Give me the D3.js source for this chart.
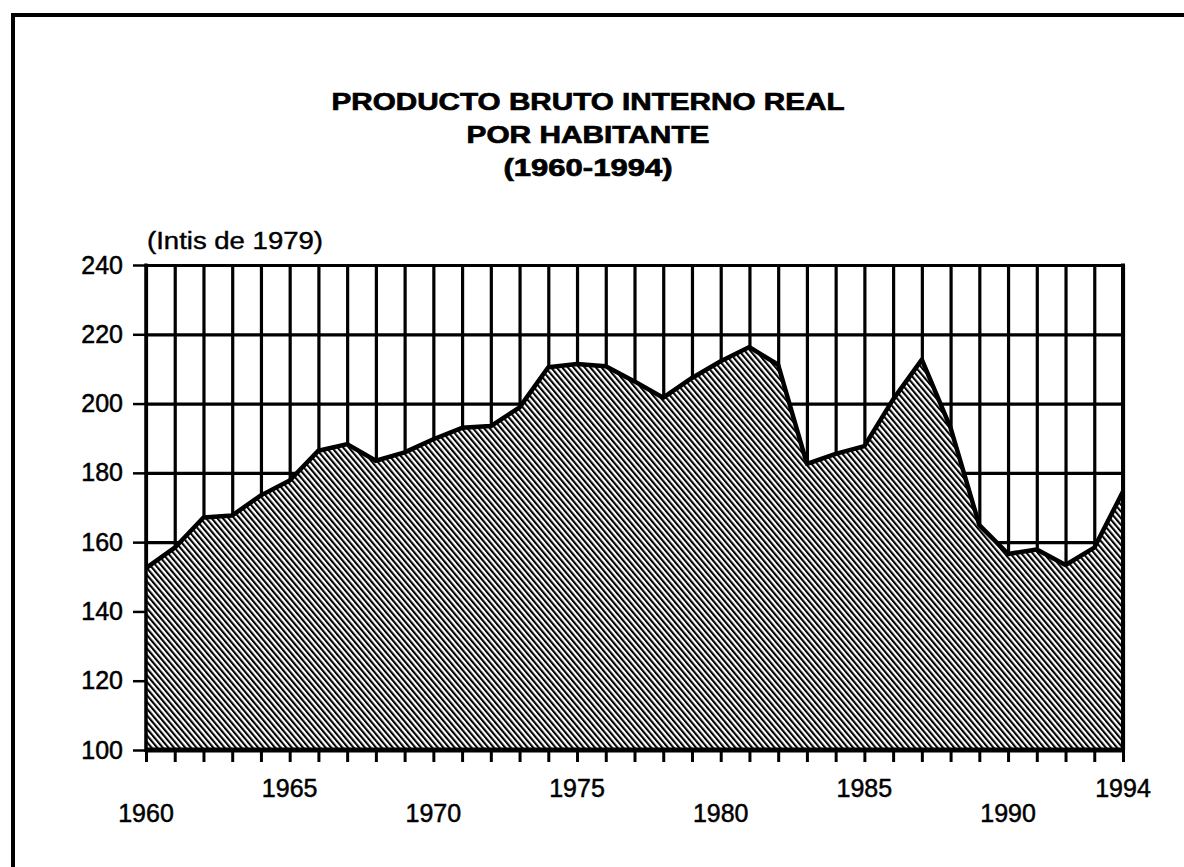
<!DOCTYPE html>
<html><head><meta charset="utf-8">
<script src="https://cdn.jsdelivr.net/npm/d3@7"></script>
<style>body{margin:0;background:#fff;overflow:hidden}svg{display:block}</style>
</head><body>
<svg id="c" width="1184" height="867"></svg>
<script>
// ---- data ----
const years = [1960,1961,1962,1963,1964,1965,1966,1967,1968,1969,
               1970,1971,1972,1973,1974,1975,1976,1977,1978,1979,
               1980,1981,1982,1983,1984,1985,1986,1987,1988,1989,
               1990,1991,1992,1993,1994];
const values = [152.5,158.4,167.1,167.7,173.5,177.8,186.4,188.3,183.5,185.9,
                189.7,193.0,193.5,198.9,210.5,211.4,210.8,206.4,201.7,207.4,
                212.2,216.3,211.2,182.6,185.5,187.7,201.2,212.7,193.0,164.9,
                156.6,157.9,153.4,158.4,174.6];
const yTicks = [100,120,140,160,180,200,220,240];
const xLabelsUpper = [1965,1975,1985,1994];
const xLabelsLower = [1960,1970,1980,1990];
const titleLines = ["PRODUCTO BRUTO INTERNO REAL","POR HABITANTE","(1960-1994)"];
const unitLabel = "(Intis de 1979)";

// ---- layout ----
const FONT = "'Liberation Sans', Arial, Helvetica, sans-serif";
const L = 146, R = 1123, T = 265, B = 750;
const svg = d3.select('#c');
const x = d3.scaleLinear().domain([1960,1994]).range([L,R]);
const y = d3.scaleLinear().domain([100,240]).range([B,T]);

// outer frame (top and left edges)
svg.append('line').attr('x1',11).attr('x2',1184).attr('y1',15).attr('y2',15)
  .attr('stroke','#000').attr('stroke-width',4);
svg.append('line').attr('x1',13).attr('x2',13).attr('y1',13).attr('y2',867)
  .attr('stroke','#000').attr('stroke-width',4);

// hatch pattern
const defs = svg.append('defs');
const pat = defs.append('pattern').attr('id','hatch')
  .attr('patternUnits','userSpaceOnUse').attr('width',4.3).attr('height',10)
  .attr('patternTransform','rotate(-40)');
pat.append('rect').attr('width',4.3).attr('height',10).attr('fill','#fff');
pat.append('rect').attr('x',0).attr('y',0).attr('width',2.1).attr('height',10).attr('fill','#000');

// title
titleLines.forEach((t,i)=>{
  const widths=[513,243,169];
  svg.append('text').attr('x',588).attr('y',[110,143,176][i])
    .attr('text-anchor','middle').attr('font-family',FONT).attr('font-weight','bold')
    .attr('font-size',24).attr('textLength',widths[i]).attr('lengthAdjust','spacingAndGlyphs')
    .attr('stroke','#000').attr('stroke-width',0.7)
    .text(t);
});
svg.append('text').attr('x',L+1).attr('y',249).attr('font-family',FONT)
  .attr('font-size',23).attr('textLength',176).attr('lengthAdjust','spacingAndGlyphs')
  .attr('stroke','#000').attr('stroke-width',0.4)
  .text(unitLabel);

// vertical grid
svg.append('g').attr('transform',`translate(0,${B})`)
  .call(d3.axisBottom(x).tickValues(years).tickSize(-(B-T)).tickFormat(''))
  .call(g=>{g.select('.domain').remove();
    g.selectAll('line').attr('stroke','#000').attr('stroke-width',3.2);});
// horizontal grid
svg.append('g').attr('transform',`translate(${L},0)`)
  .call(d3.axisLeft(y).tickValues(yTicks).tickSize(-(R-L)).tickFormat(''))
  .call(g=>{g.select('.domain').remove();
    g.selectAll('line').attr('stroke','#000').attr('stroke-width',3.2);});

// area
const pts = years.map((yr,i)=>({yr, v: values[i]}));
svg.append('path').datum(pts)
  .attr('d', d3.area().x(d=>x(d.yr)).y0(y(100)).y1(d=>y(d.v)))
  .attr('fill','url(#hatch)');
svg.append('path').datum(pts)
  .attr('d', d3.line().x(d=>x(d.yr)).y(d=>y(d.v)))
  .attr('fill','none').attr('stroke','#000').attr('stroke-width',4.5)
  .attr('stroke-linejoin','round');

// x ticks below axis
svg.append('g').attr('transform',`translate(0,${B})`)
  .call(d3.axisBottom(x).tickValues(years).tickSize(12).tickFormat('').tickSizeOuter(0))
  .call(g=>{g.select('.domain').remove();
    g.selectAll('line').attr('stroke','#000').attr('stroke-width',3);});
// y axis ticks & labels
svg.append('g').attr('transform',`translate(${L},0)`)
  .call(d3.axisLeft(y).tickValues(yTicks).tickSize(13).tickPadding(10).tickFormat(d3.format('d')))
  .call(g=>{g.select('.domain').remove();
    g.selectAll('line').attr('stroke','#000').attr('stroke-width',2.5);
    g.selectAll('text').attr('font-family',FONT).attr('font-size',25).attr('fill','#000')
      .attr('stroke','#000').attr('stroke-width',0.5);});

// plot frame lines
svg.append('line').attr('x1',L).attr('x2',L).attr('y1',T-1.5).attr('y2',B+2)
  .attr('stroke','#000').attr('stroke-width',3.5);
svg.append('line').attr('x1',R).attr('x2',R).attr('y1',T-1.5).attr('y2',B+2)
  .attr('stroke','#000').attr('stroke-width',4);
svg.append('line').attr('x1',L-1).attr('x2',R+2).attr('y1',B).attr('y2',B)
  .attr('stroke','#000').attr('stroke-width',5);

// x labels (staggered)
svg.append('g').selectAll('text').data(xLabelsUpper).join('text')
  .attr('x',d=>x(d)).attr('y',797).attr('text-anchor','middle')
  .attr('font-family',FONT).attr('font-size',25)
  .attr('stroke','#000').attr('stroke-width',0.5).text(d=>d);
svg.append('g').selectAll('text').data(xLabelsLower).join('text')
  .attr('x',d=>x(d)).attr('y',822).attr('text-anchor','middle')
  .attr('font-family',FONT).attr('font-size',25)
  .attr('stroke','#000').attr('stroke-width',0.5).text(d=>d);
</script>
</body></html>
